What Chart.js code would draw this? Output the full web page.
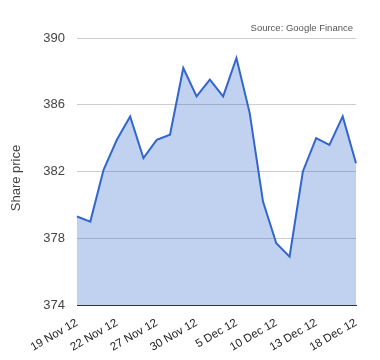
<!DOCTYPE html>
<html>
<head>
<meta charset="utf-8">
<script src="https://cdn.jsdelivr.net/npm/chart.js@4"></script>
<style>
  html, body { margin: 0; padding: 0; background: #fff; }
  #wrap { width: 380px; height: 360px; }
</style>
</head>
<body>
<div id="wrap"><canvas id="chart" width="380" height="360"></canvas></div>
<script>
// trading days, 19 Nov 12 .. 18 Dec 12
const dates = [
  '19 Nov 12', '20 Nov 12', '21 Nov 12', '22 Nov 12', '23 Nov 12', '26 Nov 12',
  '27 Nov 12', '28 Nov 12', '29 Nov 12', '30 Nov 12', '3 Dec 12', '4 Dec 12',
  '5 Dec 12', '6 Dec 12', '7 Dec 12', '10 Dec 12', '11 Dec 12', '12 Dec 12',
  '13 Dec 12', '14 Dec 12', '17 Dec 12', '18 Dec 12'
];
const prices = [
  379.3, 379.0, 382.1, 383.9, 385.3, 382.8,
  383.9, 384.2, 388.2, 386.5, 387.5, 386.5,
  388.8, 385.5, 380.2, 377.7, 376.9, 382.0,
  384.0, 383.6, 385.3, 382.5
];
const yTicks = [374, 378, 382, 386, 390];
const sourceText = 'Source: Google Finance';
const yTitle = 'Share price';

const fontFamily = '"Liberation Sans", Arial, sans-serif';

// source note top right + rotated y title
const extraText = {
  id: 'extraText',
  afterDraw(chart) {
    const ctx = chart.ctx;
    ctx.save();
    ctx.font = '9.5px ' + fontFamily;
    ctx.fillStyle = '#555';
    ctx.textAlign = 'right';
    ctx.textBaseline = 'middle';
    ctx.fillText(sourceText, chart.chartArea.right - 3, 28);

    ctx.translate(16, 178);
    ctx.rotate(-Math.PI / 2);
    ctx.font = '13px ' + fontFamily;
    ctx.fillStyle = '#444';
    ctx.textAlign = 'center';
    ctx.fillText(yTitle, 0, 0);
    ctx.restore();
  }
};

const ctx = document.getElementById('chart').getContext('2d');
new Chart(ctx, {
  type: 'line',
  data: {
    labels: dates,
    datasets: [{
      data: prices,
      borderColor: '#3366cc',
      backgroundColor: 'rgba(51, 102, 204, 0.3)',
      borderWidth: 2,
      pointRadius: 0,
      tension: 0,
      fill: 'start'
    }]
  },
  options: {
    responsive: false,
    animation: false,
    layout: { padding: { top: 38, right: 24, left: 0, bottom: 0 } },
    plugins: {
      legend: { display: false },
      tooltip: { enabled: false }
    },
    scales: {
      x: {
        offset: false,
        grid: { display: false },
        border: { color: '#333', width: 1 },
        ticks: {
          autoSkip: false,
          minRotation: 30,
          maxRotation: 30,
          padding: 3,
          color: '#222',
          font: { size: 11.5, family: fontFamily },
          callback: function (val, i) { return i % 3 === 0 ? dates[i] : null; }
        },
        afterFit: function (scale) { scale.height = 55; }
      },
      y: {
        min: 374,
        max: 390,
        afterBuildTicks: function (scale) { scale.ticks = yTicks.map(v => ({ value: v })); },
        grid: {
          drawTicks: false,
          color: c => (c.tick && c.tick.value === 374) ? '#333' : '#ccc'
        },
        border: { display: false },
        ticks: {
          padding: 12,
          color: '#444',
          font: { size: 13, family: fontFamily }
        },
        afterFit: function (scale) { scale.width = 77; }
      }
    }
  },
  plugins: [extraText]
});
</script>
</body>
</html>
